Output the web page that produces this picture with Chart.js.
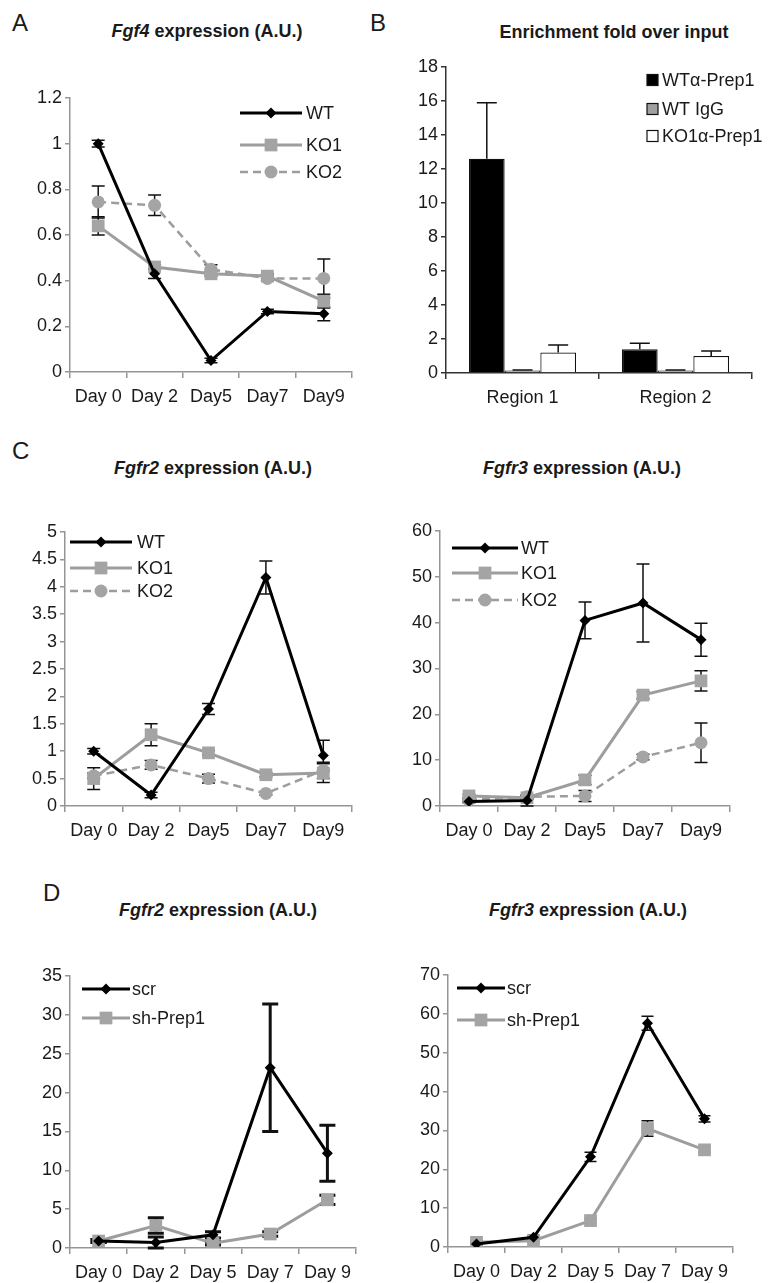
<!DOCTYPE html>
<html lang="en">
<head>
<meta charset="UTF-8">
<title>Fgf4 / Fgfr2 / Fgfr3 expression</title>
<script src="https://cdn.jsdelivr.net/npm/chart.js"></script>
<style>
  body { margin: 0; background: #fff; }
  #fig { position: relative; width: 773px; height: 1283px; overflow: hidden;
         font-family: "Liberation Sans", Arial, sans-serif; color: #1a1a1a; }
  canvas { position: absolute; }
  .letter { position: absolute; font-size: 24px; line-height: 1; }
  .title { position: absolute; font-size: 18px; font-weight: bold; white-space: nowrap;
           transform: translate(-50%, -50%); }
</style>
</head>
<body>
<div id="fig">
  <div class="letter" style="left:12px;top:11px">A</div>
  <div class="letter" style="left:370px;top:11px">B</div>
  <div class="letter" style="left:12px;top:439px">C</div>
  <div class="letter" style="left:43px;top:881px">D</div>

  <div class="title" style="left:207px;top:31px"><i>Fgf4</i> expression (A.U.)</div>
  <div class="title" style="left:614px;top:32px">Enrichment fold over input</div>
  <div class="title" style="left:213px;top:468px"><i>Fgfr2</i> expression (A.U.)</div>
  <div class="title" style="left:582px;top:468px"><i>Fgfr3</i> expression (A.U.)</div>
  <div class="title" style="left:218px;top:910px"><i>Fgfr2</i> expression (A.U.)</div>
  <div class="title" style="left:588px;top:910px"><i>Fgfr3</i> expression (A.U.)</div>

  <canvas id="chartA"></canvas>
  <canvas id="chartB"></canvas>
  <canvas id="chartC2"></canvas>
  <canvas id="chartC3"></canvas>
  <canvas id="chartD2"></canvas>
  <canvas id="chartD3"></canvas>
</div>
<script>
  // ---- data ----
  const days = ['Day 0', 'Day 2', 'Day5', 'Day7', 'Day9'];
  const daysD = ['Day 0', 'Day 2', 'Day 5', 'Day 7', 'Day 9'];
  const regions = ['Region 1', 'Region 2'];

  // A: Fgf4
  const fgf4WT = [1.0, 0.43, 0.05, 0.265, 0.255];
  const fgf4WTErr = [0.015, 0.02, 0.01, 0.01, 0.03];
  const fgf4KO1 = [0.64, 0.46, 0.43, 0.42, 0.31];
  const fgf4KO1Err = [0.04, 0.01, 0.01, 0.01, 0.03];
  const fgf4KO2 = [0.745, 0.73, 0.45, 0.41, 0.41];
  const fgf4KO2Err = [0.07, 0.045, 0.02, 0.01, 0.085];

  // B: ChIP enrichment
  const chipWT = [12.6, 1.4];
  const chipWTErr = [3.3, 0.35];
  const chipIgG = [0.15, 0.15];
  const chipIgGErr = [0.03, 0.03];
  const chipKO1 = [1.2, 1.0];
  const chipKO1Err = [0.45, 0.3];

  // C: Fgfr2
  const fgfr2WT = [1.0, 0.2, 1.77, 4.17, 0.92];
  const fgfr2WTErr = [0.05, 0.05, 0.1, 0.3, 0.28];
  const fgfr2KO1 = [0.5, 1.3, 0.97, 0.57, 0.6];
  const fgfr2KO1Err = [0.2, 0.2, 0.04, 0.04, 0.17];
  const fgfr2KO2 = [0.55, 0.75, 0.5, 0.23, 0.65];
  const fgfr2KO2Err = [0.05, 0.08, 0.08, 0.03, 0.15];

  // C: Fgfr3
  const fgfr3WT = [1.0, 1.2, 40.5, 44.3, 36.3];
  const fgfr3WTErr = [0.3, 1.2, 4.0, 8.5, 3.6];
  const fgfr3KO1 = [2.2, 1.8, 5.7, 24.2, 27.3];
  const fgfr3KO1Err = [0.3, 0.3, 1.0, 0.8, 2.2];
  const fgfr3KO2 = [1.3, 2.0, 2.2, 10.7, 13.8];
  const fgfr3KO2Err = [0.3, 0.3, 1.2, 0.6, 4.3];

  // D: knockdown
  const kdFgfr2Scr = [0.9, 0.7, 1.7, 23.2, 12.2];
  const kdFgfr2ScrErr = [0.2, 0.7, 0.4, 8.2, 3.6];
  const kdFgfr2Sh = [0.9, 2.9, 0.6, 1.8, 6.2];
  const kdFgfr2ShErr = [0.2, 1.0, 0.2, 0.3, 0.6];
  const kdFgfr3Scr = [0.8, 2.5, 23.2, 57.6, 33.0];
  const kdFgfr3ScrErr = [0.3, 0.5, 1.2, 1.8, 0.8];
  const kdFgfr3Sh = [1.2, 1.6, 6.8, 30.5, 25.0];
  const kdFgfr3ShErr = [0.3, 0.3, 0.5, 2.0, 0.6];

  // ---- styling ----
  const FONT = { family: '"Liberation Sans", Arial, sans-serif', size: 18 };
  const TEXT = '#1a1a1a';
  const GREY_LINE = '#9d9d9d';
  const GREY_FILL = '#a4a4a4';

  const STYLES = {
    wt:  { borderColor: '#000', borderWidth: 3, pointStyle: 'rectRot', pointRadius: 5.5,
           pointBackgroundColor: '#000', pointBorderColor: '#000', pointBorderWidth: 0 },
    ko1: { borderColor: GREY_LINE, borderWidth: 3, pointStyle: 'rect', pointRadius: 9,
           pointBackgroundColor: GREY_FILL, pointBorderColor: GREY_FILL, pointBorderWidth: 0 },
    ko2: { borderColor: GREY_LINE, borderWidth: 2.5, borderDash: [8, 5], pointStyle: 'circle', pointRadius: 6.5,
           pointBackgroundColor: GREY_FILL, pointBorderColor: GREY_FILL, pointBorderWidth: 0 }
  };

  function place(cv, box) {
    cv.width = box.width;
    cv.height = box.height;
    cv.style.left = box.left + 'px';
    cv.style.top = box.top + 'px';
    cv.style.width = box.width + 'px';
    cv.style.height = box.height + 'px';
  }

  function marker(ctx, style, x, y) {
    const r = style.pointRadius;
    ctx.save();
    ctx.fillStyle = style.pointBackgroundColor;
    ctx.beginPath();
    if (style.pointStyle === 'rectRot') {
      ctx.moveTo(x, y - r); ctx.lineTo(x + r, y); ctx.lineTo(x, y + r); ctx.lineTo(x - r, y); ctx.closePath();
    } else if (style.pointStyle === 'rect') {
      const s = r * Math.SQRT1_2;
      ctx.rect(x - s, y - s, 2 * s, 2 * s);
    } else {
      ctx.arc(x, y, r, 0, Math.PI * 2);
    }
    ctx.fill();
    ctx.restore();
  }

  // error bars, positioned with each chart's own y scale
  function drawErrors(chart) {
    const ctx = chart.ctx;
    const ys = chart.scales.y;
    chart.data.datasets.forEach((ds, i) => {
      if (!ds.errors) return;
      const meta = chart.getDatasetMeta(i);
      meta.data.forEach((el, j) => {
        const e = ds.errors[j];
        if (!e) return;
        const v = ds.data[j];
        const top = ys.getPixelForValue(v + e);
        const bot = ys.getPixelForValue(ds.errUpOnly ? v : v - e);
        ctx.save();
        ctx.strokeStyle = ds.errColor || '#111';
        ctx.lineWidth = ds.errWidth || 1.5;
        ctx.beginPath();
        ctx.moveTo(el.x, top); ctx.lineTo(el.x, bot);
        ctx.moveTo(el.x - ds.errCap, top); ctx.lineTo(el.x + ds.errCap, top);
        if (!ds.errUpOnly) { ctx.moveTo(el.x - ds.errCap, bot); ctx.lineTo(el.x + ds.errCap, bot); }
        ctx.stroke();
        ctx.restore();
      });
    });
  }
  // line charts: markers sit on top of the bars; bar chart: whiskers above the bars
  const errorsUnder = { id: 'errorsUnder', beforeDatasetsDraw: drawErrors };
  const errorsOver = { id: 'errorsOver', afterDatasetsDraw: drawErrors };

  function axes(box, yMax, step, axisColor) {
    const area = box.area;
    return {
      x: {
        type: 'category', offset: true,
        grid: { offset: true, drawOnChartArea: false, drawTicks: true, tickLength: 6, color: axisColor, lineWidth: 1.5 },
        border: { color: axisColor, width: 1.5 },
        ticks: { font: FONT, color: TEXT, padding: 8, maxRotation: 0, autoSkip: false },
        afterFit: s => { s.height = box.top + box.height - area.b; }
      },
      y: {
        min: 0, max: yMax,
        grid: { drawOnChartArea: false, drawTicks: true, tickLength: 5, color: axisColor, lineWidth: 1.5 },
        border: { color: axisColor, width: 1.5 },
        ticks: { stepSize: step, font: FONT, color: TEXT, padding: 3,
                 callback: v => String(Math.round(v * 100) / 100) },
        afterFit: s => { s.width = area.l - box.left; }
      }
    };
  }

  function makeLine(id, box, labels, yMax, step, series, key, err) {
    const cv = document.getElementById(id);
    place(cv, box);
    const datasets = series.map(s => Object.assign({
      label: s.label, data: s.data, errors: s.err, tension: 0,
      errCap: err.cap, errWidth: err.width, errColor: err.color
    }, STYLES[s.kind]));

    const lineKey = {
      id: 'lineKey',
      afterDraw(chart) {
        const ctx = chart.ctx;
        series.forEach((s, i) => {
          const st = STYLES[s.kind];
          const y = key.rows[i] - box.top;
          const x1 = key.x1 - box.left, x2 = key.x2 - box.left;
          ctx.save();
          ctx.strokeStyle = st.borderColor;
          ctx.lineWidth = st.borderWidth;
          ctx.setLineDash(st.borderDash || []);
          ctx.beginPath(); ctx.moveTo(x1, y); ctx.lineTo(x2, y); ctx.stroke();
          ctx.restore();
          marker(ctx, st, (x1 + x2) / 2, y);
          ctx.save();
          ctx.fillStyle = TEXT;
          ctx.font = FONT.size + 'px ' + FONT.family;
          ctx.textBaseline = 'middle';
          ctx.fillText(s.label, key.tx - box.left, y + 1);
          ctx.restore();
        });
      }
    };

    new Chart(cv, {
      type: 'line',
      data: { labels, datasets },
      options: {
        responsive: false, animation: false, devicePixelRatio: 1,
        layout: { padding: { top: box.area.t - box.top, right: box.left + box.width - box.area.r, left: 0, bottom: 0 } },
        plugins: { legend: { display: false }, tooltip: { enabled: false } },
        scales: axes(box, yMax, step, '#959595')
      },
      plugins: [errorsUnder, lineKey]
    });
  }

  // ---- A ----
  makeLine('chartA',
    { left: 0, top: 60, width: 380, height: 362, area: { l: 70, t: 98, r: 352, b: 372 } },
    days, 1.2, 0.2,
    [ { label: 'WT', data: fgf4WT, err: fgf4WTErr, kind: 'wt' },
      { label: 'KO1', data: fgf4KO1, err: fgf4KO1Err, kind: 'ko1' },
      { label: 'KO2', data: fgf4KO2, err: fgf4KO2Err, kind: 'ko2' } ],
    { x1: 240, x2: 302, tx: 306, rows: [113, 145, 172] },
    { cap: 6.5, width: 1.5, color: '#111' });

  // ---- C ----
  makeLine('chartC2',
    { left: 0, top: 500, width: 385, height: 352, area: { l: 65, t: 532, r: 352, b: 806 } },
    days, 5, 0.5,
    [ { label: 'WT', data: fgfr2WT, err: fgfr2WTErr, kind: 'wt' },
      { label: 'KO1', data: fgfr2KO1, err: fgfr2KO1Err, kind: 'ko1' },
      { label: 'KO2', data: fgfr2KO2, err: fgfr2KO2Err, kind: 'ko2' } ],
    { x1: 70, x2: 132, tx: 137, rows: [542, 568, 591] },
    { cap: 6.5, width: 1.5, color: '#111' });

  makeLine('chartC3',
    { left: 385, top: 500, width: 388, height: 352, area: { l: 440, t: 531, r: 730, b: 806 } },
    days, 60, 10,
    [ { label: 'WT', data: fgfr3WT, err: fgfr3WTErr, kind: 'wt' },
      { label: 'KO1', data: fgfr3KO1, err: fgfr3KO1Err, kind: 'ko1' },
      { label: 'KO2', data: fgfr3KO2, err: fgfr3KO2Err, kind: 'ko2' } ],
    { x1: 452, x2: 518, tx: 521, rows: [548, 573, 600] },
    { cap: 6.5, width: 1.5, color: '#111' });

  // ---- D ----
  makeLine('chartD2',
    { left: 0, top: 940, width: 385, height: 343, area: { l: 70, t: 976, r: 356, b: 1248 } },
    daysD, 35, 5,
    [ { label: 'scr', data: kdFgfr2Scr, err: kdFgfr2ScrErr, kind: 'wt' },
      { label: 'sh-Prep1', data: kdFgfr2Sh, err: kdFgfr2ShErr, kind: 'ko1' } ],
    { x1: 82, x2: 130, tx: 132, rows: [989, 1018] },
    { cap: 8, width: 3, color: '#111' });

  makeLine('chartD3',
    { left: 385, top: 940, width: 388, height: 343, area: { l: 448, t: 975, r: 733, b: 1247 } },
    daysD, 70, 10,
    [ { label: 'scr', data: kdFgfr3Scr, err: kdFgfr3ScrErr, kind: 'wt' },
      { label: 'sh-Prep1', data: kdFgfr3Sh, err: kdFgfr3ShErr, kind: 'ko1' } ],
    { x1: 457, x2: 505, tx: 507, rows: [988, 1020] },
    { cap: 6, width: 1.5, color: '#111' });

  // ---- B: bar chart ----
  (function () {
    const box = { left: 380, top: 45, width: 393, height: 377, area: { l: 446, t: 67, r: 752, b: 373 } };
    const cv = document.getElementById('chartB');
    place(cv, box);
    const bars = [
      { label: 'WTα-Prep1', data: chipWT, errors: chipWTErr, backgroundColor: '#000' },
      { label: 'WT IgG', data: chipIgG, errors: chipIgGErr, backgroundColor: '#a0a0a0' },
      { label: 'KO1α-Prep1', data: chipKO1, errors: chipKO1Err, backgroundColor: '#fff' }
    ].map(d => Object.assign(d, {
      borderColor: '#111', borderWidth: 1.2, categoryPercentage: 0.7, barPercentage: 1.0,
      errUpOnly: true, errCap: 10, errWidth: 1.5, errColor: '#111'
    }));

    const key = { x: 647, size: 11, tx: 662, rows: [80, 109, 136] };
    const barKey = {
      id: 'barKey',
      afterDraw(chart) {
        const ctx = chart.ctx;
        bars.forEach((b, i) => {
          const y = key.rows[i] - box.top;
          const x = key.x - box.left;
          ctx.save();
          ctx.fillStyle = b.backgroundColor;
          ctx.strokeStyle = '#111';
          ctx.lineWidth = 1.2;
          ctx.fillRect(x, y - key.size / 2, key.size, key.size);
          ctx.strokeRect(x, y - key.size / 2, key.size, key.size);
          ctx.fillStyle = TEXT;
          ctx.font = FONT.size + 'px ' + FONT.family;
          ctx.textBaseline = 'middle';
          ctx.fillText(b.label, key.tx - box.left, y + 1);
          ctx.restore();
        });
      }
    };

    const sc = axes(box, 18, 2, '#333');
    new Chart(cv, {
      type: 'bar',
      data: { labels: regions, datasets: bars },
      options: {
        responsive: false, animation: false, devicePixelRatio: 1,
        layout: { padding: { top: box.area.t - box.top, right: box.left + box.width - box.area.r, left: 0, bottom: 0 } },
        plugins: { legend: { display: false }, tooltip: { enabled: false } },
        scales: sc
      },
      plugins: [errorsOver, barKey]
    });
  })();
</script>
</body>
</html>
